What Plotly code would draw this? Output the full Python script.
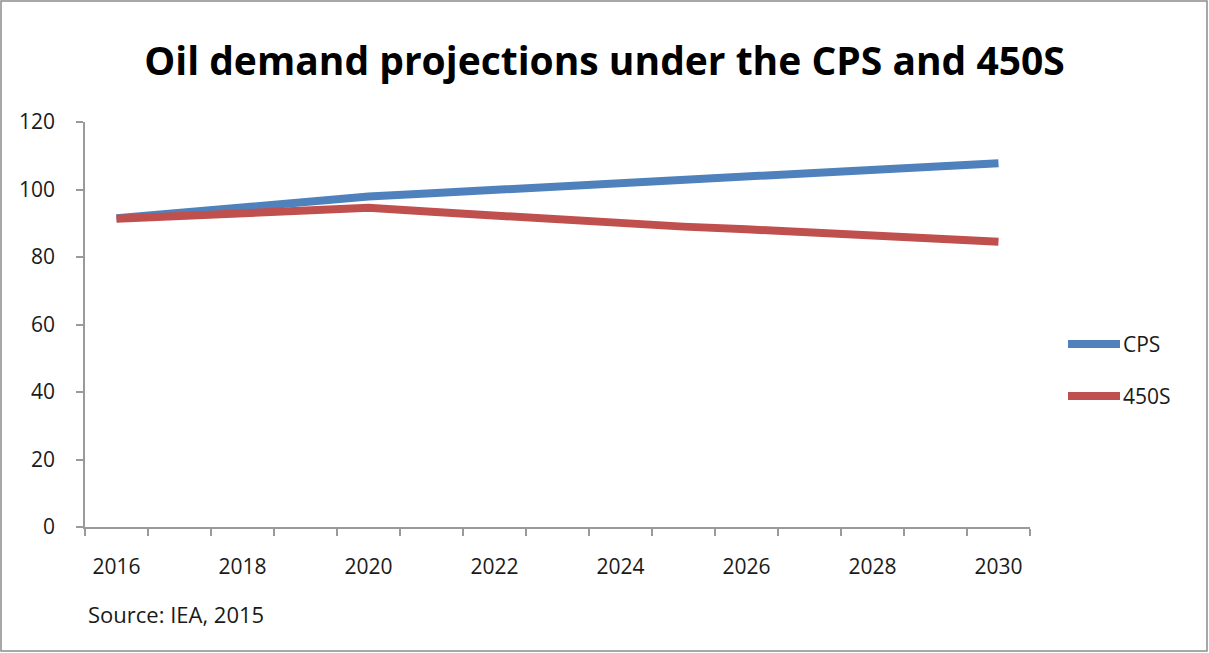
import plotly.graph_objects as go

years = list(range(2016, 2031))
cps = [91.5, 93.1, 94.7, 96.3, 97.9, 98.9, 99.9, 100.9, 101.9, 102.8, 103.7, 104.6, 105.4, 106.6, 107.8]
s450 = [91.3, 92.1, 92.9, 93.8, 94.6, 93.4, 92.2, 91.0, 89.9, 89.0, 88.2, 87.2, 86.3, 85.4, 84.5]
series_names = ["CPS", "450S"]
colors = ["#4F81BD", "#C0504D"]
x_labels = [str(y) for y in years[::2]]
y_ticks = [0, 20, 40, 60, 80, 100, 120]

W, H = 1209, 653
L, R, T, B = 85, 179, 122, 126
pw, ph = W - L - R, H - T - B

FONT = "Open Sans"
TXT = "#1a1a1a"

fig = go.Figure()
for name, vals, col in zip(series_names, [cps, s450], colors):
    fig.add_trace(go.Scatter(x=years, y=vals, mode="lines", name=name,
                             line=dict(color=col, width=8), showlegend=False))

fig.update_layout(
    width=W, height=H,
    margin=dict(l=L, r=R, t=T, b=B),
    paper_bgcolor="white", plot_bgcolor="white",
    title=dict(text="<b>Oil demand projections under the CPS and 450S</b>",
               x=0.5, xanchor="center", y=1 - 61 / H, yanchor="middle",
               font=dict(family=FONT, size=39, color="black")),
    font=dict(family=FONT, color=TXT, size=21),
)

boundaries = [y - 0.5 for y in years] + [years[-1] + 0.5]
fig.update_xaxes(range=[years[0] - 0.5, years[-1] + 0.5],
                 tickvals=years[::2], ticktext=x_labels,
                 ticks="", showgrid=False, zeroline=False,
                 showline=True, linecolor="#9a9a9a", linewidth=1.5,
                 ticklabelstandoff=20,
                 tickfont=dict(family=FONT, size=21, color=TXT),
                 minor=dict(tickvals=boundaries, ticks="outside", ticklen=7,
                            tickcolor="#9a9a9a", tickwidth=1.5, showgrid=False))
fig.update_yaxes(range=[0, 120], tickvals=y_ticks,
                 ticks="outside", ticklen=7, tickcolor="#9a9a9a", tickwidth=1.5,
                 showgrid=False, zeroline=False,
                 showline=True, linecolor="#9a9a9a", linewidth=1.5,
                 ticklabelstandoff=17,
                 tickfont=dict(family=FONT, size=21, color=TXT))

# legend drawn manually
leg_y = [344, 396]
for name, col, yy in zip(series_names, colors, leg_y):
    yp = 1 - (yy - T) / ph
    fig.add_shape(type="line", xref="paper", yref="paper",
                  x0=(1068 - L) / pw, x1=(1120 - L) / pw, y0=yp, y1=yp,
                  line=dict(color=col, width=8))
    fig.add_annotation(text=name, xref="paper", yref="paper",
                       x=(1121 - L) / pw, y=yp, xanchor="left", yanchor="middle",
                       showarrow=False, font=dict(family=FONT, size=21, color=TXT))

fig.add_annotation(text="Source: IEA, 2015", xref="paper", yref="paper",
                   x=(86 - L) / pw, y=1 - (614 - T) / ph, xanchor="left", yanchor="middle",
                   showarrow=False, font=dict(family=FONT, size=22, color=TXT))

# outer border
fig.add_shape(type="rect", xref="paper", yref="paper",
              x0=(1 - L) / pw, x1=(W - 2 - L) / pw,
              y0=1 - (H - 2 - T) / ph, y1=1 - (1 - T) / ph,
              line=dict(color="#8c8c8c", width=1.5), layer="below")

fig.write_html("out.html")
